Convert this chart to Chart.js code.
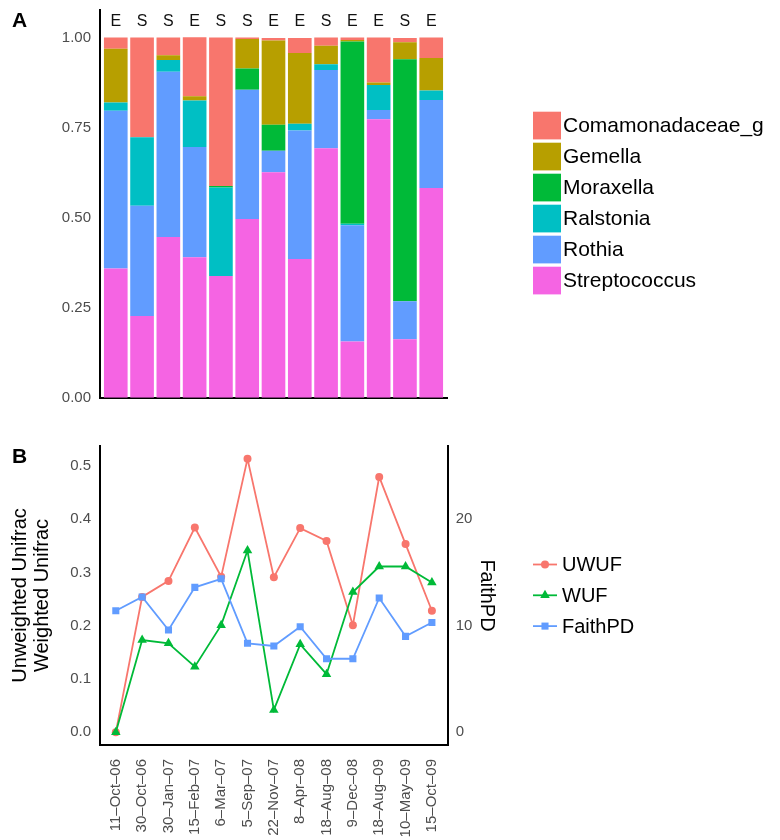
<!DOCTYPE html>
<html>
<head>
<meta charset="utf-8">
<title>Community composition and diversity over time</title>
<style>
  html, body { margin: 0; padding: 0; background: #ffffff; }
  #wrap { position: relative; width: 780px; height: 840px; overflow: hidden; background: #ffffff; }
  canvas { position: absolute; left: 0; }
  #barCanvas { top: 0; width: 780px; height: 420px; }
  #lineCanvas { top: 420px; width: 780px; height: 420px; }
</style>
<script src="https://cdn.jsdelivr.net/npm/chart.js@4.4.1/dist/chart.umd.min.js"></script>
</head>
<body>
<div id="wrap">
  <canvas id="barCanvas" width="780" height="420"></canvas>
  <canvas id="lineCanvas" width="780" height="420"></canvas>
</div>
<script>
// ---- sampling dates and sample type (E / S) ----
const samples = ['11–Oct–06', '30–Oct–06', '30–Jan–07', '15–Feb–07', '6–Mar–07', '5–Sep–07',
                 '22–Nov–07', '8–Apr–08', '18–Aug–08', '9–Dec–08', '18–Aug–09', '10–May–09', '15–Oct–09'];
const groups = ['E', 'S', 'S', 'E', 'S', 'S', 'E', 'E', 'S', 'E', 'E', 'S', 'E'];

// ---- relative abundance per genus (panel A) ----
const comamonadaceae = [0.031, 0.277, 0.049, 0.164, 0.412, 0.004, 0.007, 0.042, 0.023, 0.007, 0.125, 0.012, 0.057];
const gemella        = [0.149, 0.000, 0.013, 0.012, 0.000, 0.082, 0.234, 0.196, 0.051, 0.004, 0.007, 0.047, 0.090];
const moraxella      = [0.000, 0.000, 0.000, 0.000, 0.004, 0.059, 0.072, 0.000, 0.000, 0.506, 0.000, 0.672, 0.000];
const ralstonia      = [0.023, 0.190, 0.033, 0.129, 0.246, 0.000, 0.000, 0.019, 0.016, 0.004, 0.069, 0.000, 0.026];
const rothia         = [0.438, 0.306, 0.459, 0.306, 0.000, 0.359, 0.060, 0.357, 0.217, 0.323, 0.026, 0.106, 0.245];
const streptococcus  = [0.359, 0.227, 0.446, 0.390, 0.338, 0.496, 0.626, 0.385, 0.693, 0.156, 0.773, 0.162, 0.582];

// ---- diversity metrics (panel B) ----
const uwuf    = [0.000, 0.254, 0.284, 0.384, 0.292, 0.513, 0.291, 0.383, 0.359, 0.201, 0.479, 0.353, 0.228];
const wuf     = [0.000, 0.173, 0.167, 0.123, 0.201, 0.341, 0.042, 0.165, 0.109, 0.263, 0.311, 0.311, 0.281];
const faithPD = [11.4, 12.7, 9.6, 13.6, 14.4, 8.35, 8.1, 9.9, 6.9, 6.9, 12.6, 9.0, 10.3];

// ---- tick values ----
const fractionTicks = [0, 0.25, 0.5, 0.75, 1.0];
const unifracTicks  = [0, 0.1, 0.2, 0.3, 0.4, 0.5];
const faithTicks    = [0, 10, 20];

const FONT = '"Liberation Sans", Arial, Helvetica, sans-serif';
Chart.defaults.font.family = FONT;
Chart.defaults.animation = false;

const TICK_GREY = '#4D4D4D';
const AXIS_BLACK = '#000000';

// x positions run from -0.6 to 12.6 so the first/last sample sit 0.6 steps from the edges
const xRange = { min: -0.6, max: samples.length - 1 + 0.6 };
const sampleTicks = scale => { scale.ticks = samples.map((_, i) => ({ value: i })); };
const toPoints = arr => arr.map((v, i) => ({ x: i, y: v }));

// fixed axis box sizes; label overhang must not push the plot area around
const fixWidth = w => s => { s.width = w; s.paddingTop = 0; s.paddingBottom = 0; };
const fixHeight = h => s => { s.height = h; s.paddingLeft = 0; s.paddingRight = 0; };

// bold panel letter
const panelTag = {
  id: 'panelTag',
  afterDraw(chart, args, opts) {
    const ctx = chart.ctx;
    ctx.save();
    ctx.font = 'bold 21px ' + FONT;
    ctx.fillStyle = '#000';
    ctx.textAlign = 'left';
    ctx.textBaseline = 'alphabetic';
    ctx.fillText(opts.text, opts.x, opts.y);
    ctx.restore();
  }
};

// sample-type letters above each bar
const groupLabels = {
  id: 'groupLabels',
  afterDatasetsDraw(chart, args, opts) {
    const { ctx, scales: { x, y } } = chart;
    ctx.save();
    ctx.font = '16px ' + FONT;
    ctx.fillStyle = '#111';
    ctx.textAlign = 'center';
    ctx.textBaseline = 'middle';
    opts.labels.forEach((t, i) => ctx.fillText(t, x.getPixelForValue(i), y.getPixelForValue(opts.at)));
    ctx.restore();
  }
};

// filled-square legend (top entry = top of the stack)
const swatchLegend = {
  id: 'swatchLegend',
  afterDraw(chart, args, opts) {
    const ctx = chart.ctx;
    ctx.save();
    ctx.font = opts.fontSize + 'px ' + FONT;
    ctx.textAlign = 'left';
    ctx.textBaseline = 'middle';
    chart.data.datasets.slice().reverse().forEach((ds, k) => {
      const top = opts.y + k * opts.step;
      ctx.fillStyle = ds.backgroundColor;
      ctx.fillRect(opts.x, top, opts.box, opts.boxH);
      ctx.fillStyle = '#000';
      ctx.fillText(ds.label, opts.x + opts.box + opts.gap, top + opts.boxH / 2 + 1);
    });
    ctx.restore();
  }
};

function drawMarker(ctx, style, r, x, y) {
  ctx.beginPath();
  if (style === 'circle') {
    ctx.arc(x, y, r, 0, Math.PI * 2);
  } else if (style === 'triangle') {
    for (let k = 0; k < 3; k++) {
      const a = k * 2 * Math.PI / 3;
      const px = x + Math.sin(a) * r, py = y - Math.cos(a) * r;
      if (k === 0) ctx.moveTo(px, py); else ctx.lineTo(px, py);
    }
    ctx.closePath();
  } else {
    const s = r * Math.SQRT1_2;
    ctx.rect(x - s, y - s, 2 * s, 2 * s);
  }
  ctx.fill();
}

// line + marker legend
const lineLegend = {
  id: 'lineLegend',
  afterDraw(chart, args, opts) {
    const ctx = chart.ctx;
    ctx.save();
    ctx.font = opts.fontSize + 'px ' + FONT;
    ctx.textAlign = 'left';
    ctx.textBaseline = 'middle';
    chart.data.datasets.forEach((ds, k) => {
      const cy = opts.y + k * opts.step;
      ctx.strokeStyle = ds.borderColor;
      ctx.lineWidth = ds.borderWidth;
      ctx.beginPath();
      ctx.moveTo(opts.x, cy);
      ctx.lineTo(opts.x + opts.len, cy);
      ctx.stroke();
      ctx.fillStyle = ds.borderColor;
      drawMarker(ctx, ds.pointStyle, ds.pointRadius, opts.x + opts.len / 2, cy);
      ctx.fillStyle = '#000';
      ctx.fillText(ds.label, opts.x + opts.len + opts.gap, cy + 1);
    });
    ctx.restore();
  }
};

// ---------------- Panel A: stacked relative abundance ----------------
const taxa = [
  { label: 'Streptococcus',    values: streptococcus,  color: '#F564E3' },
  { label: 'Rothia',           values: rothia,         color: '#619CFF' },
  { label: 'Ralstonia',        values: ralstonia,      color: '#00BFC4' },
  { label: 'Moraxella',        values: moraxella,      color: '#00BA38' },
  { label: 'Gemella',          values: gemella,        color: '#B79F00' },
  { label: 'Comamonadaceae_g', values: comamonadaceae, color: '#F8766D' }
];

new Chart(document.getElementById('barCanvas'), {
  type: 'bar',
  data: {
    datasets: taxa.map(t => ({
      label: t.label,
      data: toPoints(t.values),
      backgroundColor: t.color,
      borderWidth: 0,
      barPercentage: 0.9,
      categoryPercentage: 1.0
    }))
  },
  plugins: [panelTag, groupLabels, swatchLegend],
  options: {
    responsive: false,
    devicePixelRatio: 1,
    layout: { padding: { left: 0, right: 333, top: 9.5, bottom: 22.3 } },
    plugins: {
      legend: { display: false },
      tooltip: { enabled: false },
      panelTag: { text: 'A', x: 12, y: 27 },
      groupLabels: { labels: groups, at: 1.045 },
      swatchLegend: { x: 533, y: 111.7, box: 28, boxH: 27.7, step: 31, gap: 2, fontSize: 21 }
    },
    scales: {
      x: {
        type: 'linear', stacked: true, offset: false,
        min: xRange.min, max: xRange.max,
        afterBuildTicks: sampleTicks,
        ticks: { display: false },
        grid: { display: false, drawTicks: false, offset: false },
        border: { display: true, color: AXIS_BLACK, width: 2 },
        afterFit: fixHeight(0)
      },
      y: {
        stacked: true, min: 0, max: 1.078,
        afterBuildTicks: s => { s.ticks = fractionTicks.map(v => ({ value: v })); },
        ticks: { padding: 9, color: TICK_GREY, font: { size: 15 }, callback: v => Number(v).toFixed(2) },
        grid: { display: false, drawTicks: false },
        border: { display: true, color: AXIS_BLACK, width: 2 },
        afterFit: fixWidth(100)
      }
    }
  }
});

// ---------------- Panel B: UniFrac distances and Faith's PD ----------------
new Chart(document.getElementById('lineCanvas'), {
  type: 'line',
  data: {
    datasets: [
      { label: 'UWUF', data: toPoints(uwuf), yAxisID: 'y', order: 3,
        borderColor: '#F8766D', backgroundColor: '#F8766D', borderWidth: 1.8,
        pointStyle: 'circle', pointRadius: 4, pointBorderWidth: 0,
        pointBackgroundColor: '#F8766D', tension: 0 },
      { label: 'WUF', data: toPoints(wuf), yAxisID: 'y', order: 2,
        borderColor: '#00BA38', backgroundColor: '#00BA38', borderWidth: 1.8,
        pointStyle: 'triangle', pointRadius: 5.5, pointBorderWidth: 0,
        pointBackgroundColor: '#00BA38', tension: 0 },
      { label: 'FaithPD', data: toPoints(faithPD), yAxisID: 'y2', order: 1,
        borderColor: '#619CFF', backgroundColor: '#619CFF', borderWidth: 1.8,
        pointStyle: 'rect', pointRadius: 5, pointBorderWidth: 0,
        pointBackgroundColor: '#619CFF', tension: 0 }
    ]
  },
  plugins: [panelTag, lineLegend],
  options: {
    responsive: false,
    devicePixelRatio: 1,
    layout: { padding: { left: 0, right: 272.3, top: 26, bottom: 0 } },
    plugins: {
      legend: { display: false },
      tooltip: { enabled: false },
      panelTag: { text: 'B', x: 12, y: 43 },
      lineLegend: { x: 533, y: 144.5, step: 30.8, len: 24, gap: 5, fontSize: 20 }
    },
    scales: {
      x: {
        type: 'linear', offset: false,
        min: xRange.min, max: xRange.max,
        afterBuildTicks: sampleTicks,
        ticks: { autoSkip: false, minRotation: 90, maxRotation: 90, padding: 14,
                 color: TICK_GREY, font: { size: 15 }, callback: v => samples[v] },
        grid: { display: false, drawTicks: false },
        border: { display: true, color: AXIS_BLACK, width: 2 },
        afterFit: fixHeight(95)
      },
      y: {
        position: 'left', min: -0.0238, max: 0.537,
        afterBuildTicks: s => { s.ticks = unifracTicks.map(v => ({ value: v })); },
        ticks: { padding: 9, color: TICK_GREY, font: { size: 15 }, callback: v => Number(v).toFixed(1) },
        grid: { display: false, drawTicks: false },
        border: { display: true, color: AXIS_BLACK, width: 2 },
        title: { display: true, text: ['Unweighted Unifrac', 'Weighted Unifrac'], color: '#000',
                 font: { size: 20, lineHeight: 1.1 }, padding: { top: 9, bottom: 0 } },
        afterFit: fixWidth(100)
      },
      y2: {
        position: 'right', min: -1.19, max: 26.86,
        afterBuildTicks: s => { s.ticks = faithTicks.map(v => ({ value: v })); },
        ticks: { padding: 8, color: TICK_GREY, font: { size: 15 }, callback: v => String(v) },
        grid: { display: false, drawTicks: false },
        border: { display: true, color: AXIS_BLACK, width: 2 },
        title: { display: true, text: 'FaithPD', color: '#000',
                 font: { size: 20, lineHeight: 1.1 }, padding: { top: 9.7, bottom: 0 } },
        afterFit: fixWidth(60)
      }
    }
  }
});
</script>
</body>
</html>
